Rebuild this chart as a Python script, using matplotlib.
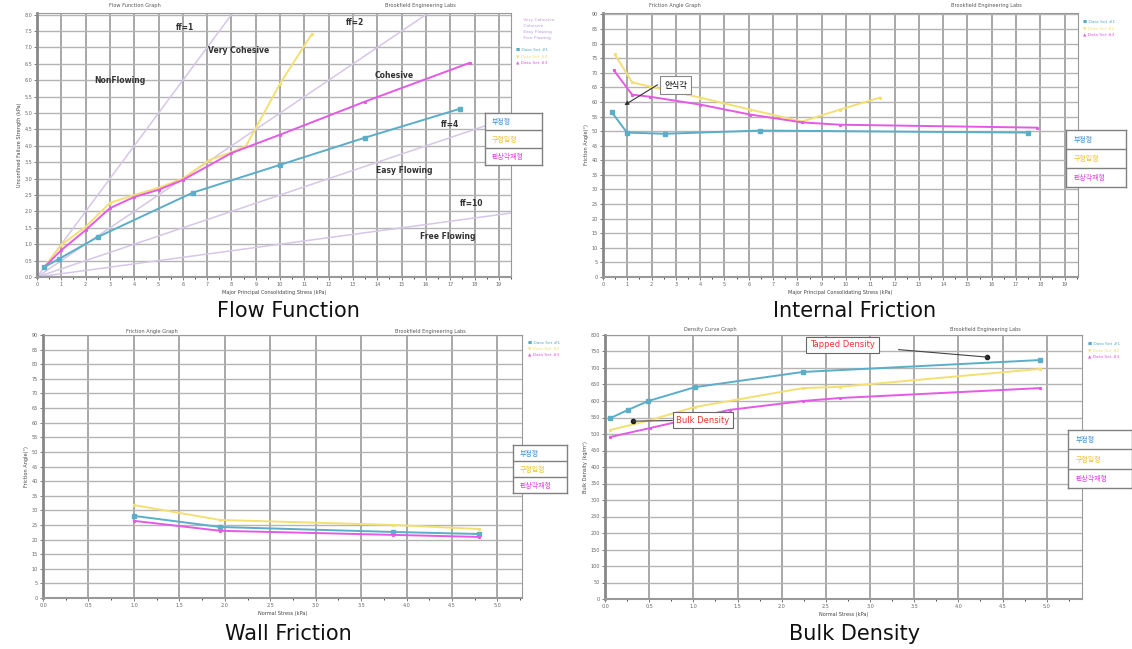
import matplotlib
matplotlib.use("Agg")
import matplotlib.pyplot as plt
from matplotlib.ticker import MultipleLocator

plt.rcParams['font.family'] = ['DejaVu Sans', 'Noto Sans CJK KR']

# series names (Korean legend boxes)
names = ['부정형', '구형입형', '판상각재형']
name_colors = ['#3d8fd6', '#f0c230', '#e040e0']
line_colors = ['#5aaec8', '#f3df72', '#e45ae4']

# flow function data (major principal stress vs unconfined failure strength)
ff_x1 = [0.3, 0.9, 2.5, 6.4, 10.0, 13.5, 17.4]
ff_y1 = [0.3, 0.55, 1.22, 2.57, 3.42, 4.25, 5.13]
ff_x2 = [0.3, 1.0, 2.0, 3.0, 4.0, 5.0, 6.0, 7.1, 8.0, 8.6, 10.0, 11.3]
ff_y2 = [0.3, 0.98, 1.53, 2.26, 2.5, 2.72, 3.0, 3.57, 3.8, 4.0, 5.9, 7.4]
ff_x3 = [0.3, 1.0, 2.0, 3.0, 4.0, 5.0, 6.0, 8.0, 10.0, 13.5, 17.8]
ff_y3 = [0.3, 0.82, 1.43, 2.1, 2.44, 2.66, 2.96, 3.78, 4.34, 5.35, 6.53]
ff_lines = [1, 2, 4, 10]

# internal friction (effective angle vs major principal stress)
if_x1 = [0.37, 0.99, 2.55, 6.46, 17.5]
if_y1 = [56.4, 49.5, 49.1, 50.2, 49.5]
if_x2 = [0.49, 1.2, 1.93, 4.0, 6.05, 8.2, 9.75, 11.4]
if_y2 = [76.3, 66.7, 65.3, 61.5, 57.4, 53.3, 57.4, 61.5]
if_x3 = [0.45, 1.2, 1.93, 4.0, 6.05, 8.2, 9.75, 17.85]
if_y3 = [70.8, 62.5, 61.8, 59.1, 55.7, 53.0, 52.2, 51.2]

# wall friction (wall friction angle vs normal stress)
wf_x = [1.0, 1.95, 3.85, 4.8]
wf_y1 = [28.1, 24.3, 22.6, 21.9]
wf_y2 = [31.8, 26.7, 25.0, 23.6]
wf_y3 = [26.4, 23.0, 21.6, 20.9]

# bulk density (density vs normal stress)
bd_x1 = [0.06, 0.26, 0.49, 1.02, 2.24, 4.92]
bd_y1 = [548, 573, 600, 642, 688, 724]
bd_x2 = [0.06, 0.51, 1.02, 2.24, 2.66, 4.92]
bd_y2 = [512, 542, 582, 639, 643, 697]
bd_x3 = [0.06, 0.51, 1.41, 2.24, 2.66, 4.92]
bd_y3 = [491, 518, 573, 600, 609, 639]

W, H = 1132, 649
fig = plt.figure(figsize=(W / 100, H / 100), dpi=100)


def add_ax(l, t, r, b):
    return fig.add_axes([l / W, 1 - b / H, (r - l) / W, (b - t) / H])


def style(ax, xmaj, xmin, ymaj, fmt_x, fmt_y):
    ax.xaxis.set_major_locator(MultipleLocator(xmaj))
    ax.xaxis.set_minor_locator(MultipleLocator(xmin))
    ax.yaxis.set_major_locator(MultipleLocator(ymaj))
    ax.grid(True, which='major', axis='x', color='#999999', lw=1.2)
    ax.grid(True, which='major', axis='y', color='#b4b4b4', lw=1.0)
    ax.set_axisbelow(True)
    ax.tick_params(labelsize=3.5, colors='#666666', length=2, width=0.6, pad=1.5)
    ax.tick_params(which='minor', length=1.5, width=0.5)
    ax.xaxis.set_major_formatter(fmt_x)
    ax.yaxis.set_major_formatter(fmt_y)
    for s in ax.spines.values():
        s.set_color('#999999')
        s.set_linewidth(0.8)
    ax.spines['left'].set_linewidth(2)
    ax.spines['left'].set_color('#888888')
    ax.spines['bottom'].set_linewidth(1.5)


def key_box(l, t, r, b):
    k = add_ax(l, t, r, b)
    k.set_xlim(0, 1)
    k.set_ylim(0, 3)
    k.set_xticks([])
    k.set_yticks([])
    for s in k.spines.values():
        s.set_color('#808080')
        s.set_linewidth(1)
    for i in (1, 2):
        k.axhline(i, color='#808080', lw=1)
    for i, (n, c) in enumerate(zip(names, name_colors)):
        k.text(0.12, 2.5 - i, n, color=c, fontsize=5, va='center', ha='left')


def small_legend(x, y, labels, colors, marks):
    for i, (lab, c, m) in enumerate(zip(labels, colors, marks)):
        fig.text(x / W, 1 - (y + i * 6) / H, m + ' ' + lab, color=c, fontsize=3.2,
                 va='center', ha='left')


def head(x1, x2, y, t1, t2):
    fig.text(x1 / W, 1 - y / H, t1, fontsize=3.6, color='#555555', ha='center', va='center')
    fig.text(x2 / W, 1 - y / H, t2, fontsize=3.6, color='#555555', ha='center', va='center')


mk = dict(marker='s', markersize=2.2, lw=1.4)
mk2 = dict(marker='s', markersize=1.2, lw=1.4)

# ---------------- Flow Function ----------------
ax1 = add_ax(37, 13, 511, 277)
ax1.set_xlim(0, 19.5)
ax1.set_ylim(0, 8.05)
style(ax1, 1, 0.5, 0.5, lambda v, p: f'{v:.0f}', lambda v, p: f'{v:.1f}')
for ff in ff_lines:
    ax1.plot([0, 19.5], [0, 19.5 / ff], color='#d6c6e8', lw=1.1)
ax1.plot(ff_x2, ff_y2, color=line_colors[1], **mk2)
ax1.plot(ff_x3, ff_y3, color=line_colors[2], **mk2)
ax1.plot(ff_x1, ff_y1, color=line_colors[0], **mk)
lab = dict(fontsize=5.5, fontweight='bold', color='#333333', ha='center', va='center')
ax1.text(6.1, 7.6, 'ff=1', **lab)
ax1.text(13.1, 7.75, 'ff=2', **lab)
ax1.text(8.3, 6.9, 'Very Cohesive', **lab)
ax1.text(3.4, 6.0, 'NonFlowing', **lab)
ax1.text(14.7, 6.15, 'Cohesive', **lab)
ax1.text(17.0, 4.65, 'ff=4', **lab)
ax1.text(15.1, 3.25, 'Easy Flowing', **lab)
ax1.text(17.9, 2.25, 'ff=10', **lab)
ax1.text(16.9, 1.22, 'Free Flowing', **lab)
ax1.set_xlabel('Major Principal Consolidating Stress (kPa)', fontsize=3.6, labelpad=2, color='#444444')
ax1.set_ylabel('Unconfined Failure Strength (kPa)', fontsize=3.6, labelpad=2, color='#444444')
head(135, 420, 6, 'Flow Function Graph', 'Brookfield Engineering Labs')
small_legend(522, 20, ['Very Cohesive', 'Cohesive', 'Easy Flowing', 'Free Flowing'],
             ['#b89ad8'] * 4, ['', '', '', ''])
small_legend(516, 50, ['Data Set #1', 'Data Set #2', 'Data Set #3'], line_colors, ['■', '▼', '▲'])
key_box(485, 113, 542, 165)

# ---------------- Internal Friction ----------------
ax2 = add_ax(603, 13, 1078, 277)
ax2.set_xlim(0, 19.55)
ax2.set_ylim(0, 90.5)
style(ax2, 1, 0.5, 5, lambda v, p: f'{v:.0f}', lambda v, p: f'{v:.0f}')
ax2.plot(if_x2, if_y2, color=line_colors[1], **mk2)
ax2.plot(if_x3, if_y3, color=line_colors[2], **mk2)
ax2.plot(if_x1, if_y1, color=line_colors[0], **mk)
repose_tip = (0.78, 58.4)
repose_box = (3.0, 65.8)
ax2.annotate('안식각', xy=repose_tip, xytext=repose_box, fontsize=6, ha='center', va='center',
             bbox=dict(boxstyle='square,pad=0.5', fc='white', ec='#888888', lw=0.8),
             arrowprops=dict(arrowstyle='-|>', color='#333333', lw=0.8, relpos=(0, 1),
                             mutation_scale=6))
ax2.set_xlabel('Major Principal Consolidating Stress (kPa)', fontsize=3.6, labelpad=2, color='#444444')
ax2.set_ylabel('Friction Angle(°)', fontsize=3.6, labelpad=2, color='#444444')
head(675, 986, 6, 'Friction Angle Graph', 'Brookfield Engineering Labs')
small_legend(1083, 22, ['Data Set #1', 'Data Set #2', 'Data Set #3'], line_colors, ['■', '▼', '▲'])
key_box(1066, 130, 1126, 187)

# ---------------- Wall Friction ----------------
ax3 = add_ax(43, 335, 522, 598)
ax3.set_xlim(0, 5.27)
ax3.set_ylim(0, 90)
style(ax3, 0.5, 0.25, 5, lambda v, p: f'{v:.1f}', lambda v, p: f'{v:.0f}')
ax3.plot(wf_x, wf_y2, color=line_colors[1], **mk2)
ax3.plot(wf_x, wf_y1, color=line_colors[0], **mk)
ax3.plot(wf_x, wf_y3, color=line_colors[2], **mk2)
ax3.set_xlabel('Normal Stress (kPa)', fontsize=3.6, labelpad=2, color='#444444')
ax3.set_ylabel('Friction Angle(°)', fontsize=3.6, labelpad=2, color='#444444')
head(152, 430, 331, 'Friction Angle Graph', 'Brookfield Engineering Labs')
small_legend(528, 343, ['Data Set #1', 'Data Set #2', 'Data Set #3'], line_colors, ['■', '▼', '▲'])
key_box(513, 445, 567, 493)

# ---------------- Bulk Density ----------------
ax4 = add_ax(605, 335, 1082, 599)
ax4.set_xlim(0, 5.4)
ax4.set_ylim(0, 800)
style(ax4, 0.5, 0.25, 50, lambda v, p: f'{v:.1f}', lambda v, p: f'{v:.0f}')
ax4.plot(bd_x2, bd_y2, color=line_colors[1], **mk2)
ax4.plot(bd_x3, bd_y3, color=line_colors[2], **mk2)
ax4.plot(bd_x1, bd_y1, color=line_colors[0], **mk)
tapped_pt = (4.33, 733)
tapped_box = (2.69, 770)
bulk_pt = (0.32, 539)
bulk_box = (1.11, 542)
ax4.annotate('Tapped Density', xy=tapped_pt, xytext=tapped_box, fontsize=6, color='#ee3333',
             ha='center', va='center',
             bbox=dict(boxstyle='square,pad=0.45', fc='white', ec='#666666', lw=0.8),
             arrowprops=dict(arrowstyle='-', color='#444444', lw=0.8, shrinkA=14, shrinkB=0))
ax4.annotate('Bulk Density', xy=bulk_pt, xytext=bulk_box, fontsize=6, color='#ee3333',
             ha='center', va='center',
             bbox=dict(boxstyle='square,pad=0.45', fc='white', ec='#666666', lw=0.8),
             arrowprops=dict(arrowstyle='-', color='#444444', lw=0.8, shrinkA=0, shrinkB=0))
ax4.plot(*tapped_pt, 'o', color='#222222', ms=3)
ax4.plot(*bulk_pt, 'o', color='#222222', ms=3)
ax4.set_xlabel('Normal Stress (kPa)', fontsize=3.6, labelpad=2, color='#444444')
ax4.set_ylabel('Bulk Density (kg/m³)', fontsize=3.6, labelpad=2, color='#444444')
head(710, 985, 330, 'Density Curve Graph', 'Brookfield Engineering Labs')
small_legend(1088, 344, ['Data Set #1', 'Data Set #2', 'Data Set #3'], line_colors, ['■', '▼', '▲'])
key_box(1068, 430, 1132, 488)

# captions
cap = dict(fontsize=15, ha='center', va='center', color='#111111')
fig.text(288 / W, 1 - 311 / H, 'Flow Function', **cap)
fig.text(855 / W, 1 - 311 / H, 'Internal Friction', **cap)
fig.text(288 / W, 1 - 634 / H, 'Wall Friction', **cap)
fig.text(855 / W, 1 - 634 / H, 'Bulk Density', **cap)

fig.savefig('out.png', dpi=100)
